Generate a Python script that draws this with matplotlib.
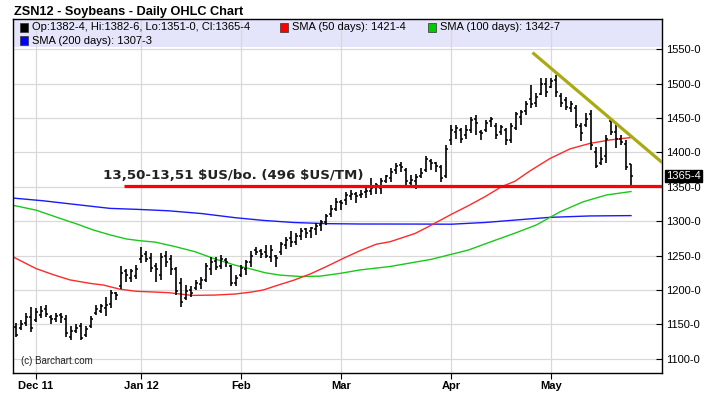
import matplotlib
matplotlib.use("Agg")
import matplotlib.pyplot as plt
from matplotlib.patches import Rectangle

# ---------------- data ----------------
title = "ZSN12 - Soybeans - Daily OHLC Chart"
month_ticks = [4, 25, 45, 65, 87, 107]          # trading-day index of month starts
month_labels = ["Dec 11", "Jan 12", "Feb", "Mar", "Apr", "May"]
y_ticks = [1100, 1150, 1200, 1250, 1300, 1350, 1400, 1450, 1500, 1550]
y_labels = ["1100-0", "1150-0", "1200-0", "1250-0", "1300-0", "1350-0",
            "1400-0", "1450-0", "1500-0", "1550-0"]

highs = [1152, 1156, 1166, 1175, 1173, 1177, 1178, 1163, 1167, 1166,
         1163, 1147, 1151, 1152, 1147, 1162, 1178, 1180, 1190, 1200,
         1197, 1235, 1231, 1231, 1236, 1263, 1256, 1253, 1239, 1253,
         1256, 1251, 1234, 1217, 1207, 1205, 1214, 1219, 1239, 1248,
         1248, 1251, 1246, 1236, 1222, 1236, 1243, 1256, 1263, 1260,
         1265, 1265, 1251, 1270, 1277, 1285, 1282, 1290, 1290, 1292,
         1297, 1302, 1311, 1323, 1333, 1331, 1343, 1345, 1343, 1345,
         1348, 1362, 1355, 1362, 1367, 1377, 1384, 1386, 1377, 1367,
         1368, 1377, 1394, 1391, 1386, 1382, 1411, 1440, 1440, 1435,
         1440, 1452, 1454, 1432, 1447, 1452, 1442, 1440, 1435, 1442,
         1459, 1462, 1474, 1498, 1486, 1508, 1508, 1508, 1513, 1486,
         1481, 1474, 1469, 1442, 1457, 1462, 1408, 1408, 1425, 1449,
         1442, 1425, 1418, 1382.75]
lows = [1131, 1142, 1147, 1139, 1154, 1159, 1161, 1151, 1154, 1152,
        1132, 1127, 1137, 1127, 1132, 1144, 1164, 1166, 1162, 1173,
        1185, 1201, 1212, 1212, 1216, 1239, 1241, 1226, 1212, 1214,
        1234, 1222, 1193, 1175, 1185, 1190, 1200, 1202, 1212, 1222,
        1229, 1231, 1234, 1205, 1205, 1219, 1222, 1234, 1251, 1246,
        1246, 1241, 1234, 1251, 1260, 1263, 1265, 1273, 1275, 1275,
        1280, 1285, 1294, 1306, 1314, 1316, 1323, 1331, 1326, 1333,
        1333, 1338, 1340, 1340, 1355, 1357, 1369, 1372, 1353, 1351,
        1346, 1362, 1372, 1374, 1372, 1357, 1362, 1411, 1420, 1413,
        1420, 1428, 1425, 1418, 1430, 1437, 1420, 1425, 1411, 1413,
        1432, 1440, 1454, 1464, 1466, 1483, 1481, 1493, 1481, 1466,
        1462, 1459, 1435, 1416, 1437, 1403, 1377, 1382, 1384, 1425,
        1406, 1411, 1374, 1351]
opens = [1146, 1144, 1152, 1160, 1156, 1164, 1172, 1160, 1158, 1163,
         1158, 1131, 1140, 1148, 1135, 1147, 1166, 1170, 1174, 1180,
         1195, 1205, 1228, 1218, 1220, 1245, 1252, 1246, 1235, 1222,
         1250, 1245, 1230, 1210, 1188, 1200, 1203, 1208, 1215, 1230,
         1242, 1235, 1243, 1235, 1210, 1222, 1230, 1240, 1258, 1257,
         1255, 1248, 1250, 1255, 1265, 1275, 1270, 1278, 1288, 1285,
         1288, 1295, 1298, 1310, 1318, 1328, 1330, 1336, 1340, 1338,
         1342, 1344, 1350, 1348, 1358, 1362, 1374, 1382, 1374, 1355,
         1358, 1366, 1375, 1388, 1384, 1378, 1366, 1418, 1430, 1432,
         1425, 1432, 1448, 1430, 1432, 1445, 1438, 1430, 1432, 1418,
         1436, 1452, 1460, 1478, 1472, 1485, 1500, 1495, 1505, 1482,
         1476, 1465, 1465, 1438, 1440, 1455, 1400, 1385, 1395, 1445,
         1430, 1420, 1412, 1382.5]
closes = [1135, 1150, 1160, 1145, 1168, 1170, 1165, 1157, 1162, 1160,
          1137, 1140, 1145, 1130, 1143, 1158, 1172, 1176, 1178, 1195,
          1193, 1225, 1222, 1228, 1230, 1250, 1245, 1232, 1230, 1248,
          1240, 1230, 1198, 1182, 1198, 1195, 1210, 1215, 1235, 1240,
          1233, 1245, 1240, 1210, 1218, 1232, 1240, 1250, 1255, 1252,
          1250, 1258, 1247, 1266, 1272, 1270, 1278, 1285, 1283, 1290,
          1293, 1298, 1308, 1318, 1328, 1326, 1338, 1340, 1336, 1340,
          1344, 1348, 1352, 1358, 1365, 1372, 1380, 1378, 1358, 1360,
          1364, 1370, 1390, 1385, 1380, 1362, 1405, 1432, 1436, 1420,
          1432, 1447, 1442, 1428, 1443, 1448, 1425, 1437, 1418, 1438,
          1455, 1458, 1470, 1470, 1480, 1500, 1488, 1503, 1488, 1472,
          1466, 1470, 1440, 1428, 1448, 1410, 1380, 1390, 1420, 1430,
          1420, 1415, 1378, 1365.5]

sma50_x = [-0.6, 4, 7.5, 10.8, 14.8, 17.5, 20.8, 24, 30.5, 35.2, 39.8, 43.8,
           47.2, 49.5, 52, 55.5, 58.8, 62.1, 65.5, 68.8, 72.1, 74.8, 79.8,
           82.5, 87.1, 90.5, 93.8, 97.1, 99.8, 102.8, 106.8, 110.8, 114.8,
           118.8, 123]
sma50_y = [1248, 1231, 1222, 1214.5, 1209.5, 1207, 1201, 1198, 1196, 1192,
           1192.5, 1194, 1197, 1200, 1206, 1214, 1223, 1234, 1246, 1257,
           1266.5, 1270, 1282, 1292, 1310, 1322.5, 1335.5, 1350, 1358,
           1373, 1391, 1405, 1413, 1418, 1421.5]
sma100_x = [-0.6, 4, 8.8, 12.1, 15.5, 18.8, 22.1, 24.8, 27.8, 31.8, 35.8,
            39.8, 43.8, 47.2, 49.8, 52.8, 56.8, 60.8, 64.8, 68.8, 74.8,
            83.1, 90.5, 95, 99.8, 104.1, 108.8, 113.4, 118.1, 123]
sma100_y = [1323, 1316, 1304, 1296, 1287, 1280, 1274, 1271.5, 1269.5, 1263,
            1255.5, 1245, 1236, 1230, 1225, 1221.5, 1219.5, 1220, 1224,
            1229, 1234, 1244.5, 1258, 1270, 1282.5, 1294.5, 1313.5, 1328,
            1338, 1343]
sma200_x = [-0.6, 5.5, 12.1, 18.8, 24.5, 30.5, 37.1, 43.8, 49.5, 55.5, 62.1,
            68.8, 80, 87.1, 93.8, 99.8, 106.8, 114.8, 123]
sma200_y = [1333.5, 1329.5, 1324, 1318.5, 1317, 1315, 1311, 1305, 1301,
            1298, 1296.3, 1295.8, 1295.7, 1295.5, 1298, 1301.5, 1305.5,
            1307.5, 1308]

support_level = 1350.5
support_start = 21.5
trend_x = [103.3, 129.5]
trend_y = [1545, 1383.5]
annotation = "13,50-13,51 $US/bo. (496 $US/TM)"
last_label = "1365-4"
last_value = 1365.5
legend_rows = [
    [("#000000", "Op:1382-4, Hi:1382-6, Lo:1351-0, Cl:1365-4"),
     ("#ff0000", "SMA (50 days): 1421-4"),
     ("#00cc00", "SMA (100 days): 1342-7")],
    [("#0000ff", "SMA (200 days): 1307-3")],
]

# ---------------- figure ----------------
W, H = 711, 396
fig = plt.figure(figsize=(W / 100, H / 100), dpi=100)
fig.patch.set_facecolor("white")
L, R, T, B = 13, 662, 19, 373
ax = fig.add_axes([L / W, 1 - B / H, (R - L) / W, (B - T) / H])
ax.set_xlim(-0.6, 129.2)
ax.set_ylim(1079.2, 1593.8)

FONT = "Liberation Sans"

# lavender legend band
band_bottom = 1 - (47 - T) / (B - T)
ax.add_patch(Rectangle((0, band_bottom), 1, 1 - band_bottom, transform=ax.transAxes,
                       facecolor="#e4e4fa", edgecolor="none", zorder=0.5))

# grid
for yv in y_ticks:
    ax.axhline(yv, color="#d9d9d9", lw=0.9, zorder=0.6)
for xv in month_ticks:
    ax.axvline(xv, color="#d9d9d9", lw=0.9, zorder=0.6)

# SMA lines
ax.plot(sma200_x, sma200_y, color="#1a1aff", lw=1.0, zorder=2)
ax.plot(sma100_x, sma100_y, color="#19c819", lw=1.0, zorder=2)
ax.plot(sma50_x, sma50_y, color="#ff2a2a", lw=1.0, zorder=2)

# OHLC bars
idx = list(range(len(highs)))
ax.vlines(idx, lows, highs, color="black", lw=1.2, zorder=3)
ax.hlines(opens, [i - 0.45 for i in idx], idx, color="black", lw=1.1, zorder=3)
ax.hlines(closes, idx, [i + 0.45 for i in idx], color="black", lw=1.1, zorder=3)

# support line and trend line
ax.plot([support_start, 129.2], [support_level, support_level], color="#ff0000",
        lw=2.3, zorder=4, solid_capstyle="butt")
ax.plot(trend_x, trend_y, color="#aaaa14", lw=2.3, zorder=4, solid_capstyle="butt")

ax.text(17.4, 1366, annotation, fontsize=9.6, fontweight="bold",
        family="DejaVu Sans", color="#222222", va="center", ha="left", zorder=5,
        parse_math=False)

ax.text(0.012, 0.035, "(c) Barchart.com", transform=ax.transAxes, fontsize=7,
        family=FONT, color="#222222", va="center", ha="left")

# axes styling
for s in ax.spines.values():
    s.set_color("black")
    s.set_linewidth(1.0)
ax.yaxis.tick_right()
ax.set_yticks(y_ticks)
ax.set_yticklabels(y_labels, family=FONT, fontsize=8)
ax.tick_params(axis="y", direction="in", length=4, pad=3, width=0.8)
ax.set_xticks(month_ticks)
ax.set_xticklabels(month_labels, family=FONT, fontsize=8, fontweight="bold")
ax.tick_params(axis="x", direction="out", length=4, pad=2, width=0.8)

# last-price label
ax.text(1.0065, last_value, last_label, transform=ax.get_yaxis_transform(),
        fontsize=8, family=FONT, color="white", va="center", ha="left",
        bbox=dict(boxstyle="square,pad=0.12", facecolor="black", edgecolor="black"),
        zorder=6, clip_on=False)

# title
fig.text(14 / W, 1 - 12 / H, title, fontsize=9.2, fontweight="bold", family=FONT,
         va="center", ha="left")

# legend rows
row_y = [27.5, 40.5]
xpos = [[20, 280, 428], [20]]
for r, row in enumerate(legend_rows):
    for c, (col, txt) in enumerate(row):
        x0 = xpos[r][c]
        y0 = row_y[r]
        fig.patches.append(Rectangle((x0 / W, 1 - (y0 + 4) / H), 8 / W, 8 / H,
                                     transform=fig.transFigure, facecolor=col,
                                     edgecolor="#333333", lw=0.5, zorder=10))
        fig.text((x0 + 12) / W, 1 - y0 / H, txt, fontsize=8, family=FONT,
                 va="center", ha="left", zorder=10)

fig.savefig("out.png", dpi=100)
